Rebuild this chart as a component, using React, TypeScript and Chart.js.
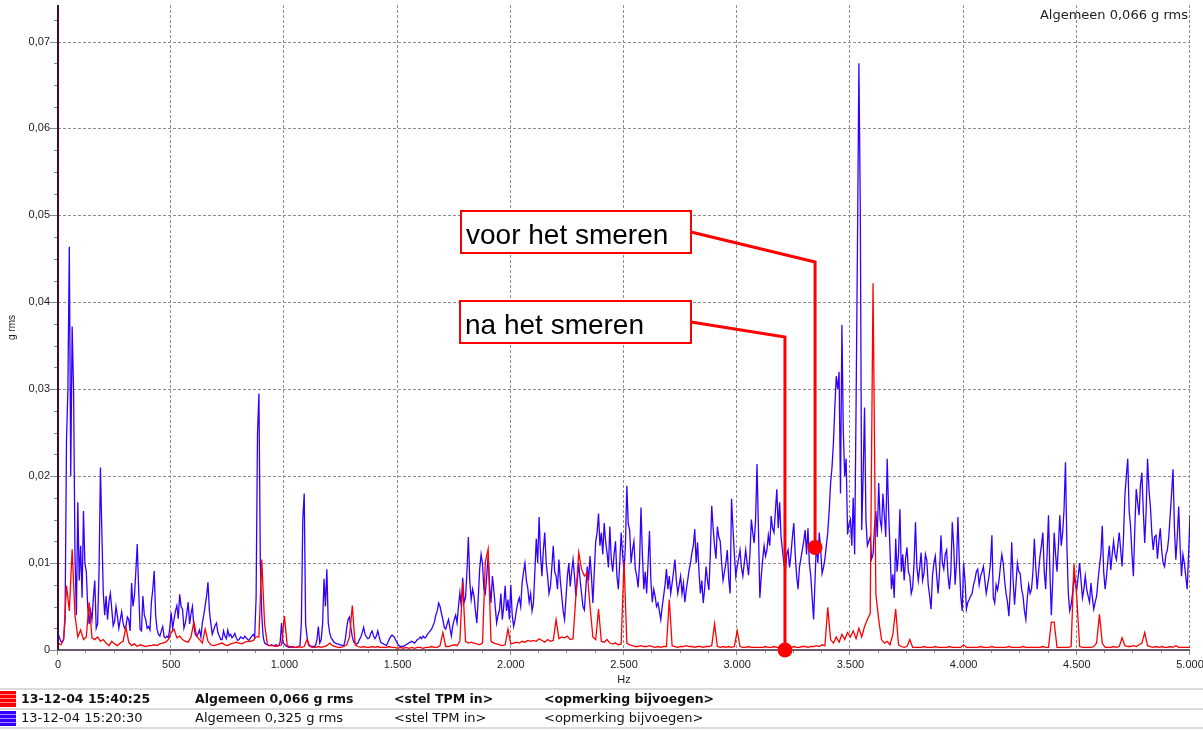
import React, { useEffect, useRef } from 'react';
import { Chart, registerables } from 'chart.js';

Chart.register(...registerables);

// ---------- DATA ----------
// Values in milli-g rms, one value per spectrum bin starting at 0 Hz.
const BLUE_STEP_HZ = 6.25;
const RED_STEP_HZ = 12.5;

// "13-12-04 15:20:30" (before lubrication) - blue, 6.25 Hz bins, 0..5000 Hz
const BLUE_MG = [
  2.0, 1.4, 1.0, 0.9, 1.3, 3.5, 24, 30, 46.4, 20, 37.2, 30, 11, 4, 17, 8,
  12, 6, 16, 10, 9, 5, 3, 4.5, 3.5, 6, 8, 2.5, 3, 9, 21, 13.5,
  6.6, 4, 6.2, 3.5, 5.5, 6.5, 4.7, 2.8, 3.3, 5, 3.9, 2.5, 3.5, 4.4, 3.1, 2.5,
  2.7, 3.8, 3.5, 2.2, 7.7, 5, 6.2, 9, 12.2, 7, 2.4, 2.2, 6.2, 4, 3.5, 2.5,
  2.7, 2.3, 5.5, 7, 9.1, 4, 2.4, 1.8, 1.6, 2.2, 2.7, 1.5, 1.4, 1.6, 1.4, 2.5,
  4.3, 2.5, 3.5, 4.5, 5.1, 3.6, 6.4, 5, 4.7, 2.5, 3.1, 4.2, 5.5, 3, 4.2, 5,
  2.7, 1.8, 1.6, 1.9, 2.3, 1.5, 3.1, 4, 5.1, 6.2, 7.8, 4.5, 3.1, 1.8, 2.3, 2.8,
  3.1, 2, 1.6, 1.2, 1.2, 2.2, 1.6, 1.3, 2.3, 1.6, 1.8, 1.4, 1.6, 1.9, 1.4, 1.1,
  1.2, 1.5, 1.4, 1.3, 1.6, 1.4, 1.2, 1.1, 1.4, 1.6, 1.8, 1.5, 6, 25, 29.5, 10,
  4, 1.5, 0.8, 0.7, 0.6, 0.5, 0.5, 0.6, 0.5, 0.5, 0.6, 0.5, 0.5, 0.9, 3.1, 0.8,
  0.7, 0.5, 0.4, 0.3, 0.3, 0.3, 0.4, 0.3, 0.3, 0.3, 0.4, 0.5, 3.1, 15, 18, 3,
  1.5, 0.6, 0.5, 0.4, 0.4, 0.4, 0.5, 1.2, 2.7, 0.8, 1.2, 3, 8.2, 5, 9.3, 3.1,
  2, 1.4, 1.2, 0.9, 0.8, 0.7, 0.7, 0.6, 0.6, 0.5, 0.5, 1.2, 2.5, 3.5, 3.8, 2.5,
  1.5, 0.9, 0.8, 0.7, 0.8, 1.2, 1.5, 2.0, 2.6, 1.8, 1.5, 1.3, 1.4, 1.9, 2.2, 1.6,
  1.3, 1.6, 2.2, 1.5, 0.9, 0.8, 0.7, 0.6, 0.5, 0.8, 1.2, 1.5, 1.7, 1.6, 1.4, 1.0,
  0.7, 0.5, 0.4, 0.4, 0.4, 0.5, 0.6, 0.7, 0.8, 0.9, 1.0, 0.9, 0.8, 1.0, 1.2, 1.3,
  1.5, 1.3, 1.6, 1.4, 1.5, 1.8, 2.0, 2.2, 2.4, 2.8, 3.2, 4, 4.5, 5.4, 5.0, 4.2,
  3.5, 2.6, 2.4, 3, 3.5, 2.5, 1.6, 2.8, 3.5, 4, 3.1, 5, 6.6, 5, 8.3, 5.5,
  6, 9, 13, 8, 5.8, 7, 6.2, 4.5, 3.1, 6, 9.3, 11, 9.9, 7, 6.5, 8.5,
  10.8, 7.5, 5.4, 8.5, 6.9, 5, 3.1, 4, 4.6, 6.5, 3.5, 5, 7.4, 4.5, 5.8, 3.5,
  7.5, 4, 2.7, 3.5, 4.6, 5.5, 6, 5, 7.7, 9, 10, 8, 7.1, 5.5, 6.5, 4.5,
  5.4, 9, 12.8, 10, 15.3, 11, 8.5, 11.5, 13.5, 10, 8.5, 6.5, 7.3, 9.5, 12, 9,
  8.5, 7, 10.4, 8, 6.2, 4.5, 3.5, 6, 8.5, 10, 7.3, 9, 10.4, 8.5, 6.2, 8,
  10, 8, 6.5, 5, 4.6, 7, 9.6, 8, 10.8, 8.5, 5.4, 9, 12.5, 13.5, 15.7, 12,
  13.5, 11, 14.6, 12.5, 11.2, 9.5, 14.2, 10.5, 9, 11, 12.5, 8.5, 7, 10, 13.5, 11,
  9, 12, 18.9, 14.5, 13.8, 10, 11.5, 12.5, 9.3, 8.5, 7.2, 10, 16.4, 11, 7.0, 9,
  6.5, 10, 13.7, 8, 5.5, 7, 6.2, 5, 5.4, 4.5, 3.5, 5, 6.2, 7.5, 9.3, 7,
  8.5, 6.5, 7.7, 9, 10.4, 8, 6.5, 7.5, 8.5, 6.5, 7.7, 5.5, 6.9, 8, 9.2, 10,
  11.2, 12, 13.9, 10, 12.4, 9, 6.5, 8, 5.4, 7, 9.6, 8, 6.9, 11, 16.6, 14,
  12, 10.5, 14.2, 13, 12.5, 10, 8, 9, 10, 11.5, 8.2, 6.5, 17.4, 14, 11, 8.5,
  9.6, 10.5, 11.5, 9.5, 8.5, 10, 11.5, 10, 8.6, 11, 15, 13.5, 12.3, 15, 21.4, 14,
  6, 8.5, 10.4, 12, 10.8, 11.5, 13.2, 12, 15.4, 14, 13.5, 16, 18.5, 14, 17, 13,
  11.5, 10, 9, 11, 11.5, 9.5, 11, 13, 14.6, 11, 8.5, 7, 9.5, 10.5, 11.5, 12.5,
  13.8, 11, 14, 10, 8.5, 6, 3.5, 8, 12.4, 10, 13.5, 11.5, 8.8, 9.5, 10.5, 12,
  13.5, 16, 19.2, 21, 23.8, 27.9, 31.5, 30, 32, 18, 37.4, 25, 20, 22, 13.3, 14.5,
  15, 12, 17.5, 11, 27.9, 46.5, 67.5, 50.6, 13.8, 20, 27.9, 15, 12, 12.5, 13, 10.5,
  11, 14, 16, 13, 19.2, 15, 14, 18, 15.5, 13, 22, 16, 11.5, 7, 8.7, 6,
  12.8, 9, 11, 16.2, 9, 11, 8, 10.5, 11.8, 9, 8.5, 6.5, 7.2, 10, 14.7, 9.5,
  8, 9.5, 11.2, 8, 8.8, 11, 10.3, 7.5, 6.2, 4.7, 8.5, 10, 10.8, 8.5, 6.5, 9,
  13.2, 10, 9.3, 11, 11.5, 8.5, 7, 9, 14.7, 12, 7.5, 10, 15.3, 10, 6.2, 4.5,
  10, 8, 4.7, 5.5, 5.8, 6.2, 6.5, 7.5, 8.1, 9, 9.3, 7.5, 8.5, 9, 9.6, 8,
  6.5, 7.5, 8.5, 10, 13.2, 6, 5.4, 7.5, 6.9, 8, 9.6, 11, 10, 8, 6.5, 5.5,
  3.9, 7, 12.4, 8, 5.2, 7.5, 10, 9, 8.8, 7, 6.2, 4.5, 3.5, 6, 7.5, 6.5,
  7.0, 9, 12.8, 9.5, 7, 9, 10.8, 12, 13.5, 9, 7, 11, 15.5, 9, 4, 8,
  13.5, 11, 9, 12, 15.5, 12, 13.5, 16.2, 21.6, 12, 6.5, 4.5, 5.2, 6.5, 8.5, 7.5,
  7, 8.5, 10, 8, 6, 7, 8.5, 7, 6.2, 5.5, 7.7, 6, 4.7, 5.5, 6.2, 8,
  9.6, 11, 14.3, 9, 7, 8.5, 10.4, 12, 9.2, 11, 12.5, 11, 10.4, 12, 13.5, 11.5,
  9.6, 13, 17.8, 20, 22, 16, 14.2, 11, 8.5, 14, 18.5, 17, 15.5, 19, 20.4, 16,
  12.3, 16, 22, 18.5, 16.5, 13.5, 11.5, 13, 13.2, 10.5, 12.5, 14, 11.5, 10, 9.6, 11,
  11.5, 13, 15.5, 18, 20.8, 14, 10.4, 13, 16.5, 12, 8.5, 11, 10, 8.5, 7, 11,
  15.5,
];

// "13-12-04 15:40:25" (after lubrication) - red, 12.5 Hz bins, 0..5000 Hz
const RED_MG = [
  0.8, 0.6, 1.2, 7.4, 4.5, 11.6, 4, 1.5,
  2.3, 1.2, 1.5, 5.5, 1.4, 1.2, 1.5, 1.0,
  1.2, 0.8, 0.5, 1.0, 0.7, 0.5, 0.8, 1.0,
  2.6, 0.9, 0.5, 0.7, 0.4, 0.6, 0.5, 0.4,
  0.5, 0.5, 0.6, 0.5, 0.7, 0.8, 0.9, 1.2,
  2.0, 2.4, 1.4, 1.6, 1.2, 1.0, 0.9, 1.5,
  3.2, 1.6, 1.2, 0.8, 2.4, 1.0, 0.6, 0.5,
  0.6, 0.7, 0.8, 0.6, 0.5, 0.7, 0.8, 0.9,
  0.8, 0.7, 0.9, 1.0, 1.0, 1.1, 1.5, 1.5,
  10.4, 3, 0.6, 0.5, 0.5, 0.4, 0.5, 0.6,
  3.9, 0.5, 0.4, 0.3, 0.3, 0.4, 0.3, 0.4,
  1.2, 0.4, 0.3, 0.3, 0.4, 0.3, 0.4, 0.5,
  0.8, 0.5, 0.4, 0.3, 0.3, 0.4, 0.6, 1.5,
  5.1, 0.6, 0.4, 0.3, 0.4, 0.3, 0.3, 0.4,
  0.3, 0.4, 0.3, 0.3, 0.3, 0.4, 0.3, 0.3,
  0.2, 0.3, 0.2, 0.3, 0.2, 0.3, 0.2, 0.3,
  0.3, 0.2, 0.3, 0.3, 0.4, 0.3, 0.3, 0.5,
  2.0, 0.4, 0.4, 0.5, 0.6, 0.5, 1.0, 7.8,
  1.0, 0.8, 0.9, 0.8, 0.7, 0.6, 0.8, 10.1,
  11.6, 1.0, 0.8, 0.7, 0.6, 0.5, 0.6, 2.4,
  0.7, 0.8, 0.9, 0.8, 1.0, 0.9, 1.1, 1.0,
  1.1, 1.0, 1.3, 1.1, 0.9, 1.2, 1.0, 1.1,
  3.5, 1.3, 1.5, 1.4, 1.6, 1.2, 1.3, 6.2,
  11.2, 9.3, 8.5, 8.9, 5, 1.5, 1.2, 4.7,
  1.0, 0.9, 1.2, 0.8, 0.7, 0.8, 0.6, 0.7,
  10.2, 0.8, 0.6, 0.5, 0.4, 0.4, 0.5, 0.4,
  0.4, 0.5, 0.4, 0.3, 0.4, 0.3, 0.4, 0.4,
  5.8, 0.5, 0.4, 0.3, 0.4, 0.4, 0.5, 0.4,
  0.4, 0.3, 0.4, 0.4, 0.3, 0.4, 0.4, 0.5,
  3, 0.4, 0.3, 0.4, 0.3, 0.4, 0.3, 0.4,
  2.2, 0.4, 0.3, 0.3, 0.4, 0.3, 0.3, 0.3,
  0.3, 0.3, 0.4, 0.3, 0.3, 0.4, 0.3, 0.3,
  0.3, 0.4, 0.3, 0.3, 0.4, 0.3, 0.3, 0.4,
  0.4, 0.3, 0.4, 0.4, 0.5, 0.4, 0.6, 0.5,
  4.9, 1.2, 0.8, 1.5, 0.9, 1.8, 1.2, 2.0,
  1.5, 2.2, 1.3, 2.5, 1.5, 2.7, 3.5, 4.2,
  42.2, 6.4, 3.5, 1.2, 0.8, 1.0, 0.6, 1.8,
  4.7, 0.6, 0.4, 0.3, 0.4, 1.2, 0.3, 0.3,
  0.3, 0.3, 0.4, 0.3, 0.3, 0.3, 0.4, 0.3,
  0.3, 0.3, 0.3, 0.4, 0.3, 0.3, 0.3, 0.3,
  0.6, 0.3, 0.3, 0.3, 0.3, 0.3, 0.4, 0.3,
  0.3, 0.3, 0.4, 0.3, 0.3, 0.3, 0.3, 0.3,
  0.4, 0.3, 0.3, 0.3, 0.3, 0.4, 0.3, 0.3,
  0.3, 0.3, 0.3, 0.3, 0.4, 0.3, 0.3, 3.2,
  3.2, 0.3, 0.3, 0.3, 0.3, 0.3, 0.4, 9.9,
  6, 0.4, 0.3, 0.3, 0.3, 0.3, 0.4, 0.8,
  4.1, 0.8, 0.3, 0.3, 0.3, 0.4, 0.3, 0.4,
  1.4, 0.5, 0.4, 0.4, 0.5, 0.4, 0.6, 0.8,
  2.0, 0.5, 0.4, 0.3, 0.4, 0.3, 0.4, 0.3,
  0.3, 0.4, 0.3, 0.5, 0.3, 0.3, 0.3, 0.3,
  0.3,
];

const X_TICKS = [0, 500, 1000, 1500, 2000, 2500, 3000, 3500, 4000, 4500, 5000];
const X_MINOR_STEP = 125;
const Y_TICKS = [0, 0.01, 0.02, 0.03, 0.04, 0.05, 0.06, 0.07];
const Y_MINOR_STEP = 0.0025;
const Y_MAX = 0.0742;

const OVERALL_LABEL = 'Algemeen 0,066 g rms';

const LEGEND_DATES = ['13-12-04 15:40:25', '13-12-04 15:20:30'];
const LEGEND_OVERALL = ['Algemeen 0,066 g rms', 'Algemeen 0,325 g rms'];
const LEGEND_TPM = ['<stel TPM in>', '<stel TPM in>'];
const LEGEND_NOTE = ['<opmerking bijvoegen>', '<opmerking bijvoegen>'];
const LEGEND_COLORS = ['#ff0000', '#3300ff'];

const ANNOTATION_TEXT = ['voor het smeren', 'na het smeren'];
const ANNOTATION_FREQ = [3344, 3211];
const ANNOTATION_VALUE = [0.0118, 0];

// ---------- STYLE ----------
const SANS = "'Liberation Sans', Arial, Helvetica, sans-serif";
const WIDE = "'DejaVu Sans', Verdana, sans-serif";
const RED = '#ff0000';
const BLUE = '#3300ff';

function toPoints(values: number[], step: number) {
  return values.map((mg, i) => ({ x: i * step, y: mg / 1000 }));
}

function formatHz(v: number) {
  if (v < 1000) return String(v);
  const th = Math.floor(v / 1000);
  const rest = String(v % 1000).padStart(3, '0');
  return th + '.' + rest;
}

function formatG(v: number) {
  if (v === 0) return '0';
  return v.toFixed(2).replace('.', ',');
}

const decorPlugin = {
  id: 'spectrumDecor',
  beforeDatasetsDraw(chart: any) {
    const { ctx, chartArea: a, scales } = chart;
    const x = scales.x;
    const y = scales.y;
    ctx.save();
    ctx.strokeStyle = '#8e8e8e';
    ctx.lineWidth = 1;
    ctx.setLineDash([3, 2]);
    for (const f of X_TICKS) {
      if (f === 0) continue;
      const px = Math.round(x.getPixelForValue(f)) - 0.5;
      ctx.beginPath();
      ctx.moveTo(px, a.top);
      ctx.lineTo(px, a.bottom);
      ctx.stroke();
    }
    for (const v of Y_TICKS) {
      if (v === 0) continue;
      const py = Math.round(y.getPixelForValue(v)) + 0.5;
      ctx.beginPath();
      ctx.moveTo(a.left, py);
      ctx.lineTo(a.right, py);
      ctx.stroke();
    }
    ctx.restore();
  },
  afterDatasetsDraw(chart: any) {
    const { ctx, chartArea: a, scales } = chart;
    const x = scales.x;
    const y = scales.y;
    ctx.save();
    // axis ticks
    ctx.strokeStyle = '#8a8a8a';
    ctx.lineWidth = 1;
    const nXMinor = Math.round(5000 / X_MINOR_STEP);
    for (let i = 0; i <= nXMinor; i++) {
      const f = i * X_MINOR_STEP;
      const major = f % 500 === 0;
      const px = Math.round(x.getPixelForValue(f)) - 0.5;
      ctx.beginPath();
      ctx.moveTo(px, a.bottom);
      ctx.lineTo(px, a.bottom + (major ? 5 : 3));
      ctx.stroke();
    }
    const nYMinor = Math.floor(Y_MAX / Y_MINOR_STEP + 1e-6);
    for (let i = 0; i <= nYMinor; i++) {
      const v = i * Y_MINOR_STEP;
      const major = i % 4 === 0;
      const py = Math.round(y.getPixelForValue(v)) + 0.5;
      ctx.beginPath();
      ctx.moveTo(a.left - (major ? 8 : 4), py);
      ctx.lineTo(a.left, py);
      ctx.stroke();
    }
    // axis lines
    ctx.strokeStyle = '#6a5a6e';
    ctx.lineWidth = 2;
    ctx.beginPath();
    ctx.moveTo(a.left, a.bottom);
    ctx.lineTo(a.right, a.bottom);
    ctx.stroke();
    ctx.strokeStyle = '#420a3c';
    ctx.beginPath();
    ctx.moveTo(a.left, a.top);
    ctx.lineTo(a.left, a.bottom);
    ctx.stroke();

    // annotations
    const boxes = [
      { left: 461, top: 211, w: 230, h: 42, elbowY: 262 },
      { left: 460, top: 301, w: 231, h: 42, elbowY: 337 },
    ];
    ANNOTATION_TEXT.forEach((txt, i) => {
      const b = boxes[i];
      const px = x.getPixelForValue(ANNOTATION_FREQ[i]);
      const py = y.getPixelForValue(ANNOTATION_VALUE[i]);
      ctx.strokeStyle = RED;
      ctx.lineWidth = 3;
      ctx.lineJoin = 'miter';
      ctx.beginPath();
      ctx.moveTo(b.left + b.w, b.top + b.h / 2);
      ctx.lineTo(px, b.elbowY);
      ctx.lineTo(px, py);
      ctx.stroke();
      ctx.fillStyle = RED;
      ctx.beginPath();
      ctx.arc(px, py, 7.5, 0, Math.PI * 2);
      ctx.fill();
    });
    ANNOTATION_TEXT.forEach((txt, i) => {
      const b = boxes[i];
      ctx.fillStyle = '#ffffff';
      ctx.fillRect(b.left, b.top, b.w, b.h);
      ctx.strokeStyle = RED;
      ctx.lineWidth = 2;
      ctx.strokeRect(b.left, b.top, b.w, b.h);
      ctx.fillStyle = '#000000';
      ctx.font = `28px ${SANS}`;
      ctx.textAlign = 'left';
      ctx.textBaseline = 'alphabetic';
      ctx.fillText(txt, b.left + 5, b.top + 33);
    });
    ctx.restore();
  },
  afterDraw(chart: any) {
    const { ctx, width } = chart;
    ctx.save();
    // overall value label, top right
    ctx.fillStyle = '#202020';
    ctx.font = `13px ${WIDE}`;
    ctx.textAlign = 'right';
    ctx.textBaseline = 'middle';
    ctx.fillText(OVERALL_LABEL, 1188, 16);

    // legend table
    const sepYs = [689, 709, 728];
    ctx.strokeStyle = '#cfcfcf';
    ctx.lineWidth = 1.5;
    for (const sy of sepYs) {
      ctx.beginPath();
      ctx.moveTo(0, sy);
      ctx.lineTo(width, sy);
      ctx.stroke();
    }
    const colX = [21, 195, 394, 544];
    LEGEND_DATES.forEach((d, i) => {
      const top = sepYs[i];
      const bottom = sepYs[i + 1];
      const mid = (top + bottom) / 2 + 0.5;
      ctx.fillStyle = LEGEND_COLORS[i];
      ctx.fillRect(0, top + 2, 16, bottom - top - 4);
      ctx.strokeStyle = 'rgba(255,255,255,0.55)';
      ctx.lineWidth = 1;
      for (let k = 1; k < 4; k++) {
        const ly = top + 2 + k * 4 - 0.5;
        ctx.beginPath();
        ctx.moveTo(0, ly);
        ctx.lineTo(16, ly);
        ctx.stroke();
      }
      const bold = i === 0;
      ctx.fillStyle = '#111111';
      ctx.font = `${bold ? 'bold 12.5px' : '13px'} ${WIDE}`;
      ctx.textAlign = 'left';
      ctx.textBaseline = 'middle';
      ctx.fillText(d, colX[0], mid);
      ctx.fillText(LEGEND_OVERALL[i], colX[1], mid);
      ctx.fillText(LEGEND_TPM[i], colX[2], mid);
      ctx.fillText(LEGEND_NOTE[i], colX[3], mid);
    });
    ctx.restore();
  },
};

export default function App() {
  const canvasRef = useRef<HTMLCanvasElement | null>(null);

  useEffect(() => {
    const canvas = canvasRef.current;
    if (!canvas) return;
    const chart = new Chart(canvas, {
      type: 'line',
      data: {
        datasets: [
          {
            label: LEGEND_DATES[0],
            data: toPoints(RED_MG, RED_STEP_HZ),
            borderColor: RED,
            borderWidth: 1.3,
            pointRadius: 0,
            tension: 0,
            fill: false,
            order: 0,
          },
          {
            label: LEGEND_DATES[1],
            data: toPoints(BLUE_MG, BLUE_STEP_HZ),
            borderColor: BLUE,
            borderWidth: 1.3,
            pointRadius: 0,
            tension: 0,
            fill: false,
            order: 1,
          },
        ],
      },
      options: {
        animation: false,
        responsive: false,
        maintainAspectRatio: false,
        devicePixelRatio: 1,
        layout: { padding: { left: 0, top: 5, right: 13, bottom: 40 } },
        plugins: {
          legend: { display: false },
          tooltip: { enabled: false },
          title: { display: false },
        },
        scales: {
          x: {
            type: 'linear',
            position: 'bottom',
            min: 0,
            max: 5000,
            grid: { display: false, drawTicks: false },
            border: { display: false },
            afterBuildTicks: (scale: any) => {
              scale.ticks = X_TICKS.map((v) => ({ value: v }));
            },
            afterFit: (scale: any) => {
              scale.height = 41;
              scale.paddingLeft = 0;
              scale.paddingRight = 0;
            },
            ticks: {
              autoSkip: false,
              maxRotation: 0,
              minRotation: 0,
              padding: 8,
              color: '#1a1a1a',
              font: { family: SANS, size: 11 },
              callback: (v: any) => formatHz(Number(v)),
            },
            title: {
              display: true,
              text: 'Hz',
              color: '#1a1a1a',
              font: { family: SANS, size: 11 },
              padding: { top: 0, bottom: 4 },
            },
          },
          y: {
            type: 'linear',
            position: 'left',
            min: 0,
            max: Y_MAX,
            grid: { display: false, drawTicks: false },
            border: { display: false },
            afterBuildTicks: (scale: any) => {
              scale.ticks = Y_TICKS.map((v) => ({ value: v }));
            },
            afterFit: (scale: any) => {
              scale.width = 58;
              scale.paddingTop = 0;
              scale.paddingBottom = 0;
            },
            ticks: {
              padding: 8,
              color: '#1a1a1a',
              font: { family: SANS, size: 11 },
              callback: (v: any) => formatG(Number(v)),
            },
            title: {
              display: true,
              text: 'g rms',
              color: '#1a1a1a',
              font: { family: SANS, size: 10 },
              padding: { top: 6, bottom: 0 },
            },
          },
        },
      },
      plugins: [decorPlugin],
    } as any);
    return () => chart.destroy();
  }, []);

  return (
    <div style={{ position: 'fixed', left: 0, top: 0, width: 1203, height: 731, background: '#ffffff' }}>
      <canvas ref={canvasRef} width={1203} height={731} style={{ display: 'block', width: 1203, height: 731 }} />
    </div>
  );
}
